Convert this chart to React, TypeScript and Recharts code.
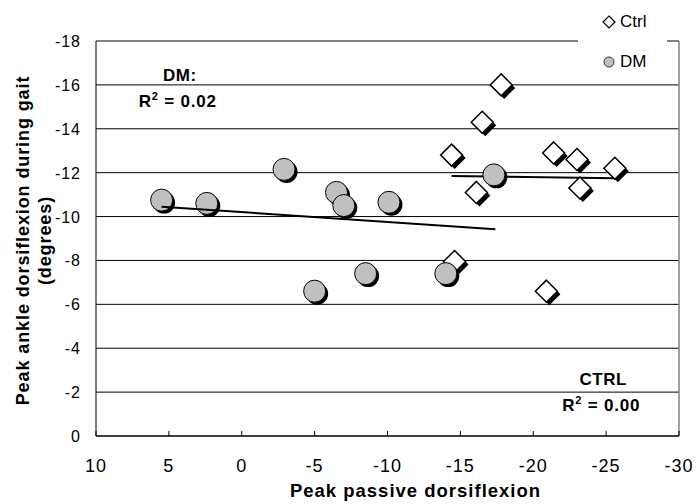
import React from 'react';
import {
  ScatterChart,
  Scatter,
  XAxis,
  YAxis,
  CartesianGrid,
  ReferenceLine,
  ReferenceDot,
  Legend,
} from 'recharts';

// ---- data ----
const ctrlX = [-17.8, -16.5, -14.4, -16.1, -21.4, -23.0, -23.2, -25.6, -14.6, -20.9];
const ctrlY = [-16.0, -14.3, -12.8, -11.1, -12.9, -12.6, -11.3, -12.2, -7.95, -6.6];
const dmX = [5.5, 2.4, -2.9, -6.5, -7.0, -10.1, -17.3, -5.0, -8.5, -14.0];
const dmY = [-10.75, -10.6, -12.15, -11.1, -10.5, -10.65, -11.9, -6.6, -7.4, -7.4];
const dmTrendX = [5.5, -17.4];
const dmTrendY = [-10.45, -9.42];
const ctrlTrendX = [-14.4, -25.6];
const ctrlTrendY = [-11.85, -11.75];
const xTicks = [10, 5, 0, -5, -10, -15, -20, -25, -30];
const yTicks = [0, -2, -4, -6, -8, -10, -12, -14, -16, -18];
const seriesNames = ['Ctrl', 'DM'];
const annotTitles = ['DM:', 'CTRL'];
const annotR2 = ['0.02', '0.00'];
const annotX = [4.25, -24.8];
const annotY = [-16.45, -2.62];

const zip = (xs: number[], ys: number[]) => xs.map((x, i) => ({ x, y: ys[i] }));
const ctrlData = zip(ctrlX, ctrlY);
const dmData = zip(dmX, dmY);
const dmTrend = zip(dmTrendX, dmTrendY);
const ctrlTrend = zip(ctrlTrendX, ctrlTrendY);

const FONT = '"Liberation Sans", Arial, Helvetica, sans-serif';

const CircleShape = (p: any) => {
  const { cx, cy } = p;
  if (cx == null || cy == null) return <g />;
  return (
    <g>
      <circle cx={cx + 2.5} cy={cy + 2.5} r={11} fill="#000" />
      <circle cx={cx} cy={cy} r={11} fill="#c0c0c0" stroke="#000" strokeWidth={1} />
    </g>
  );
};

const DiamondShape = (p: any) => {
  const { cx, cy } = p;
  if (cx == null || cy == null) return <g />;
  const s = 11;
  const d = (ox: number, oy: number) =>
    `M${cx + ox},${cy - s + oy} L${cx + s + ox},${cy + oy} L${cx + ox},${cy + s + oy} L${cx - s + ox},${cy + oy} Z`;
  return (
    <g>
      <path d={d(3, 3)} fill="#000" />
      <path d={d(0, 0)} fill="#fff" stroke="#000" strokeWidth={1.5} />
    </g>
  );
};

const NoShape = () => <g />;

const XTick = (props: any) => {
  const { x, y, payload } = props;
  return (
    <g>
      <line x1={x} y1={y} x2={x} y2={y - 5} stroke="#000" strokeWidth={1} />
      <text
        x={x}
        y={y + 36}
        textAnchor="middle"
        fontFamily={FONT}
        fontSize={18}
        letterSpacing={1}
        fill="#000"
      >
        {payload.value}
      </text>
    </g>
  );
};

const YTick = (props: any) => {
  const { x, y, payload } = props;
  return (
    <text
      x={x}
      y={y + 6}
      textAnchor="end"
      fontFamily={FONT}
      fontSize={16}
      letterSpacing={1}
      fill="#000"
    >
      {payload.value}
    </text>
  );
};

const makeAnnot = (i: number) => (props: any) => {
  const vb = props.viewBox || {};
  const x = (vb.x ?? 0) + (vb.width ?? 0) / 2;
  const y = (vb.y ?? 0) + (vb.height ?? 0) / 2;
  return (
    <g fontFamily={FONT} fontWeight="bold" fontSize={17} fill="#000" textAnchor="middle">
      <text x={x} y={y + 6} letterSpacing={0.5}>
        {annotTitles[i]}
      </text>
      <text x={x - 2} y={y + 32} letterSpacing={0.8}>
        R
        <tspan fontSize={11} dy={-7}>
          2
        </tspan>
        <tspan dy={7}>{` = ${annotR2[i]}`}</tspan>
      </text>
    </g>
  );
};

const renderLegend = (props: any) => {
  const items = (props.payload || []).filter(
    (e: any) => e.type !== 'none' && seriesNames.includes(e.value)
  );
  return (
    <div style={{ position: 'relative', width: 89, height: 78, background: '#fff' }}>
      {items.map((e: any, i: number) => (
        <div
          key={e.value}
          style={{
            position: 'absolute',
            left: 0,
            top: 10 + i * 40,
            height: 24,
            width: 89,
          }}
        >
          <svg width={14} height={14} style={{ position: 'absolute', left: 24, top: 5 }}>
            {e.value === 'Ctrl' ? (
              <path d="M7,1 L13,7 L7,13 L1,7 Z" fill="#fff" stroke="#000" strokeWidth={1.2} />
            ) : (
              <circle cx={7} cy={7} r={5} fill="#c0c0c0" stroke="#333" strokeWidth={1} />
            )}
          </svg>
          <span
            style={{
              position: 'absolute',
              left: 42,
              top: 0,
              lineHeight: '24px',
              fontFamily: FONT,
              fontSize: 17,
              color: '#000',
              whiteSpace: 'nowrap',
            }}
          >
            {e.value}
          </span>
        </div>
      ))}
    </div>
  );
};

const YLabel = (props: any) => {
  const vb = props.viewBox || { x: 0, y: 41, width: 96, height: 395 };
  const cy = vb.y + vb.height / 2 + 2;
  return (
    <g fontFamily={FONT} fontWeight="bold" fontSize={18} fill="#000" textAnchor="middle" letterSpacing={0.9}>
      <text x={29} y={cy} transform={`rotate(-90, 29, ${cy})`}>
        Peak ankle dorsiflexion during gait
      </text>
      <text x={51} y={cy} transform={`rotate(-90, 51, ${cy})`}>
        (degrees)
      </text>
    </g>
  );
};

const XLabel = (props: any) => {
  const vb = props.viewBox || { x: 96, y: 436, width: 583, height: 68 };
  return (
    <text
      x={vb.x + vb.width / 2 + 28}
      y={vb.y + 61}
      textAnchor="middle"
      fontFamily={FONT}
      fontWeight="bold"
      fontSize={18.5}
      letterSpacing={1}
      fill="#000"
    >
      Peak passive dorsiflexion
    </text>
  );
};

export default function App() {
  return (
    <div style={{ position: 'absolute', left: 0, top: 0, width: 697, height: 504, background: '#fff' }}>
      <ScatterChart
        width={697}
        height={504}
        margin={{ top: 41, right: 18, left: 0, bottom: 0 }}
        style={{ background: '#fff' }}
      >
        <CartesianGrid vertical={false} stroke="#000" strokeWidth={1} />
        <XAxis
          type="number"
          dataKey="x"
          domain={[-30, 10]}
          reversed
          ticks={xTicks}
          interval={0}
          height={68}
          tickSize={0}
          tickMargin={0}
          tickLine={false}
          axisLine={{ stroke: '#000', strokeWidth: 1 }}
          tick={<XTick />}
          allowDataOverflow
          label={{ content: <XLabel /> }}
        />
        <YAxis
          type="number"
          dataKey="y"
          domain={[-18, 0]}
          reversed
          ticks={yTicks}
          interval={0}
          width={96}
          tickSize={0}
          tickMargin={15}
          tickLine={false}
          axisLine={{ stroke: '#000', strokeWidth: 1 }}
          tick={<YTick />}
          allowDataOverflow
          label={{ content: <YLabel /> }}
        />
        <ReferenceLine y={-18} stroke="#808080" strokeWidth={1.5} />
        <ReferenceLine x={-30} stroke="#808080" strokeWidth={1.5} />
        <Scatter
          name="Ctrl trend"
          data={ctrlTrend}
          line={{ stroke: '#000', strokeWidth: 2 }}
          shape={NoShape}
          legendType="none"
          isAnimationActive={false}
        />
        <Scatter name="Ctrl" data={ctrlData} shape={DiamondShape} isAnimationActive={false} />
        <Scatter name="DM" data={dmData} shape={CircleShape} isAnimationActive={false} />
        <Scatter
          name="DM trend"
          data={dmTrend}
          line={{ stroke: '#000', strokeWidth: 2 }}
          shape={NoShape}
          legendType="none"
          isAnimationActive={false}
        />
        {annotTitles.map((t, i) => (
          <ReferenceDot
            key={t}
            x={annotX[i]}
            y={annotY[i]}
            r={0}
            fill="none"
            stroke="none"
            ifOverflow="visible"
            label={{ content: makeAnnot(i) }}
          />
        ))}
        <Legend
          layout="vertical"
          verticalAlign="middle"
          align="center"
          content={renderLegend}
          wrapperStyle={{ position: 'absolute', top: 0, left: 578, width: 89, height: 78 }}
        />
      </ScatterChart>
    </div>
  );
}
